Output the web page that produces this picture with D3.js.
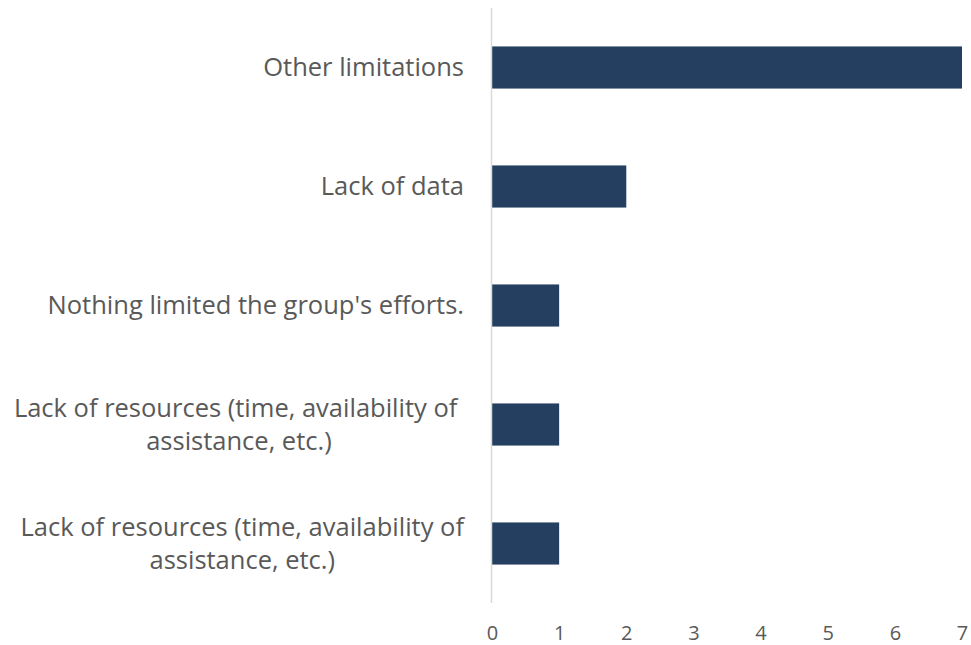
<!DOCTYPE html>
<html>
<head>
<meta charset="utf-8">
<script src="https://cdn.jsdelivr.net/npm/d3@7"></script>
<style>
  body { margin: 0; background: #fff; }
  text { font-family: "Open Sans", "Liberation Sans", Arial, sans-serif; }
</style>
</head>
<body>
<div id="chart"></div>
<script>
// categories top to bottom, each label split into its lines
var categories = [
    ["Other limitations"],
    ["Lack of data"],
    ["Nothing limited the group's efforts."],
    ["Lack of resources (time, availability of ", "assistance, etc.)"],
    ["Lack of resources (time, availability of", "assistance, etc.)"]
];
var values = [7, 2, 1, 1, 1];
var tickValues = [0, 1, 2, 3, 4, 5, 6, 7];

var width = 971, height = 645;
var labelRight = 464;

var svg = d3.select("#chart").append("svg")
    .attr("width", width)
    .attr("height", height);

var x = d3.scaleLinear()
    .domain([0, 7])
    .range([492, 962]);

var y = d3.scaleBand()
    .domain(d3.range(categories.length))
    .range([8, 603])
    .paddingInner(0.646)
    .paddingOuter(0.323);

// bars
svg.selectAll("rect.bar")
    .data(values)
    .enter().append("rect")
    .attr("class", "bar")
    .attr("x", x(0))
    .attr("y", function(d, i) { return y(i); })
    .attr("width", function(d) { return x(d) - x(0); })
    .attr("height", y.bandwidth())
    .attr("fill", "#243f60");

// vertical category axis line
svg.append("line")
    .attr("x1", x(0) - 0.5).attr("x2", x(0) - 0.5)
    .attr("y1", 8).attr("y2", 603)
    .attr("stroke", "#d9d9d9")
    .attr("stroke-width", 1.5);

// value axis, no line, just labels
var xAxis = svg.append("g")
    .attr("transform", "translate(0,633)")
    .call(d3.axisBottom(x).tickValues(tickValues).tickFormat(d3.format("d")).tickSize(0).tickPadding(0));
xAxis.select(".domain").remove();
xAxis.selectAll("text")
    .attr("y", 0)
    .attr("dy", "0.35em")
    .attr("fill", "#595959")
    .style("font-size", "20px")
    .style("font-family", "'Open Sans', 'Liberation Sans', Arial, sans-serif");

// category labels: block right-aligned, lines centered within block
var lineHeight = 33;
categories.forEach(function(lines, i) {
    var cy = y(i) + y.bandwidth() / 2;
    var g = svg.append("g");
    var texts = lines.map(function(line, j) {
        return g.append("text")
            .attr("y", cy + (j - (lines.length - 1) / 2) * lineHeight)
            .attr("dy", "0.35em")
            .attr("text-anchor", "middle")
            .attr("fill", "#595959")
            .style("font-size", "25.5px")
            .style("white-space", "pre")
            .text(line);
    });
    var maxW = d3.max(texts, function(t) { return t.node().getComputedTextLength(); });
    texts.forEach(function(t) { t.attr("x", labelRight - maxW / 2); });
});
</script>
</body>
</html>
